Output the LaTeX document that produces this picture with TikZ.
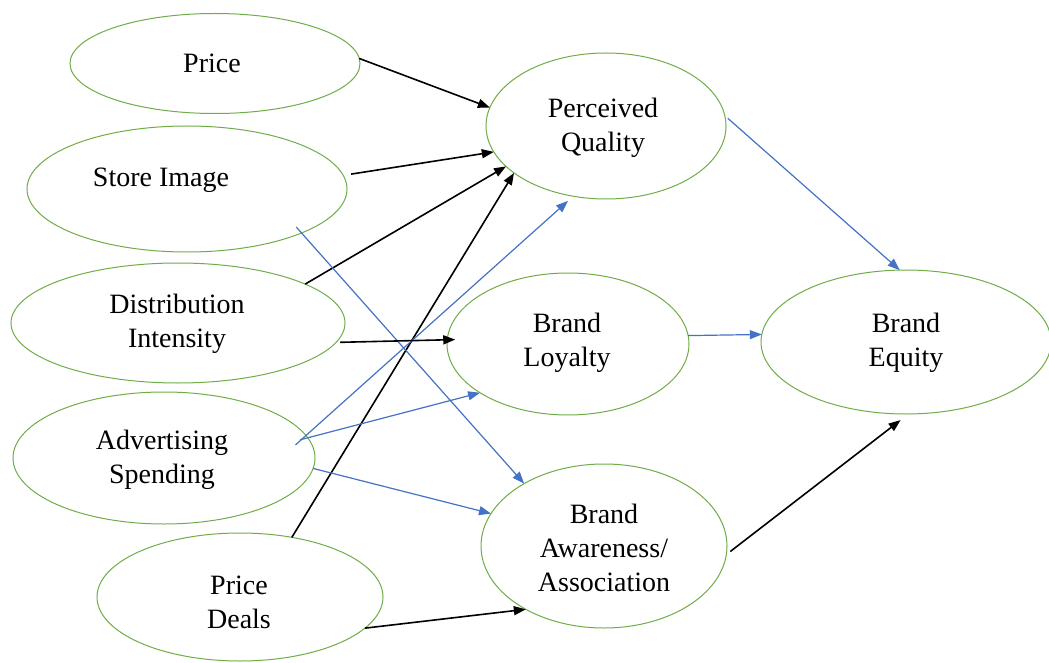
\documentclass[tikz,border=0pt]{standalone}
\usepackage{fontspec}
\setmainfont{Liberation Serif}
\usetikzlibrary{arrows.meta,shapes.geometric}
\definecolor{ovalgreen}{RGB}{112,173,71}
\definecolor{arrowblue}{RGB}{68,114,196}
\begin{document}
\begin{tikzpicture}[x=1pt,y=-1pt,
  oval/.style={draw=ovalgreen, line width=1pt, ellipse, inner sep=0pt, outer sep=0pt},
  lbl/.style={font=\fontsize{28}{34}\selectfont, align=center, inner sep=0pt, text=black},
  blk/.style={draw=black, line width=1.6pt, -{Triangle[length=12pt,width=9pt]}},
  blu/.style={draw=arrowblue, line width=1.2pt, -{Triangle[length=12pt,width=9pt]}}]
\useasboundingbox[fill=white] (0,0) rectangle (1049,663);

% ovals
\node[oval, minimum width=290pt, minimum height=100pt] (price) at (215,63.5) {};
\node[oval, minimum width=320pt, minimum height=126pt] (si) at (187,189) {};
\node[oval, minimum width=334pt, minimum height=120pt] (di) at (178,323) {};
\node[oval, minimum width=302pt, minimum height=132pt] (ad) at (164,458) {};
\node[oval, minimum width=286pt, minimum height=128pt] (pd) at (240,597) {};
\node[oval, minimum width=240pt, minimum height=146pt] (pq) at (606,126) {};
\node[oval, minimum width=242pt, minimum height=142pt] (bl) at (568,344) {};
\node[oval, minimum width=246pt, minimum height=164pt] (ba) at (604,546) {};
\node[oval, minimum width=290pt, minimum height=144pt] (be) at (906,342) {};

% labels
\node[lbl] (tprice) at (212,63) {Price};
\node[lbl] (tsi) at (161,180) {Store Image};
\node[lbl] (tdi) at (177,324) {Distribution\\Intensity};
\node[lbl] (tad) at (162,460) {Advertising\\Spending};
\node[lbl] (tpd) at (239,602) {Price\\Deals};
\node[lbl] (tpq) at (603,128) {Perceived\\Quality};
\node[lbl] (tbl) at (567,343) {Brand\\Loyalty};
\node[lbl] (tbe) at (906,343) {Brand\\Equity};
\node[lbl] (tba) at (604,548) {Brand\\Awareness/\\Association};

% connectors
\draw[blk] (price.2) -- (pq.171);
\draw[blk, shorten <=8pt] (si.5) -- (pq.193);
\draw[blk] (di.17) -- (pq.202);
\draw[blk] (pd.49) -- (pq.207);
\draw[blu, shorten <=-8pt] (si.-21) -- (ba.142);
\draw[blu, shorten <=-14pt, shorten >=7pt] (ad.9) -- (pq.245);
\draw[blu, shorten <=-8pt] (ad.8) -- (bl.209);
\draw[blu] (ad.-4) -- (ba.164);
\draw[blk, shorten <=4pt, shorten >=-8pt] (di.-7) -- (bl.178);
\draw[blk] (pd.-14) -- (ba.219);
\draw[blu, shorten <=4pt] (pq.5) -- (be.95);
\draw[blu] (bl.4) -- (be.177);
\draw[blk, shorten <=5pt, shorten >=10pt] (ba.-4) -- (be.-88);
\end{tikzpicture}
\end{document}
